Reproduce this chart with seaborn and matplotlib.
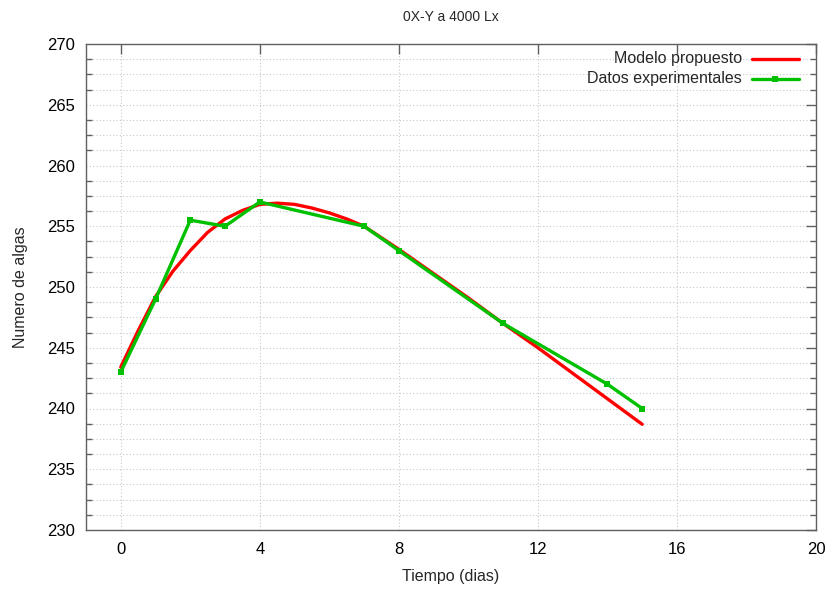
import matplotlib
matplotlib.use("Agg")
import matplotlib.pyplot as plt
from matplotlib.lines import Line2D
from matplotlib.ticker import MultipleLocator
import seaborn as sns
import pandas as pd

# Data
exp_t = [0, 1, 2, 3, 4, 7, 8, 11, 14, 15]
exp_y = [243.0, 249.0, 255.5, 255.0, 257.0, 255.0, 253.0, 247.0, 242.0, 240.0]
model_t = [0, 0.5, 1, 1.5, 2, 2.5, 3, 3.5, 4, 4.5, 5, 5.5, 6, 6.5, 7, 8, 9, 10, 11, 12, 13, 14, 15]
model_y = [243.4, 246.4, 249.2, 251.3, 253.0, 254.5, 255.6, 256.3, 256.8, 256.9, 256.8,
           256.5, 256.1, 255.6, 255.0, 253.1, 251.1, 249.1, 247.0, 245.0, 242.9, 240.8, 238.7]
labels = ["Modelo propuesto", "Datos experimentales"]
title = "0X-Y a 4000 Lx"

sns.set_style("white")
plt.rcParams['font.family'] = ['Liberation Sans', 'DejaVu Sans']

fig = plt.figure(figsize=(8.27, 5.89), dpi=100)
ax = fig.add_axes([86/827, 59/589, 730/827, 486/589])

red = "#ff0000"
green = "#00c000"

df_m = pd.DataFrame({"t": model_t, "y": model_y})
df_e = pd.DataFrame({"t": exp_t, "y": exp_y})
sns.lineplot(data=df_m, x="t", y="y", ax=ax, color=red, linewidth=2.4, zorder=3)
sns.lineplot(data=df_e, x="t", y="y", ax=ax, color=green, linewidth=2.4, marker="s",
             markersize=4.5, markeredgewidth=0, zorder=4)

ax.set_xlim(-1, 20)
ax.set_ylim(230, 270)
ax.xaxis.set_major_locator(MultipleLocator(4))
ax.yaxis.set_major_locator(MultipleLocator(5))
ax.yaxis.set_minor_locator(MultipleLocator(1.25))

ax.grid(True, which="major", axis="x", color="#c8c8c8", linestyle=(0, (1, 2)), linewidth=0.8)
ax.grid(True, which="both", axis="y", color="#c8c8c8", linestyle=(0, (1, 2)), linewidth=0.8)
ax.set_axisbelow(True)

for s in ax.spines.values():
    s.set_color("#606060")
    s.set_linewidth(1.0)

ax.tick_params(which="major", direction="in", length=7, width=1, color="#606060",
               top=True, right=True, labelsize=12, pad=9, labelcolor="black")
ax.tick_params(which="minor", direction="in", length=4, width=1, color="#606060",
               left=True, right=True)
ax.tick_params(axis="y", which="major", pad=8)

ax.set_xlabel("Tiempo (dias)", fontsize=11.5, labelpad=8)
ax.set_ylabel("Numero de algas", fontsize=11.5, labelpad=14)
fig.text(451/827, 1 - 17/589, title, ha="center", va="center", fontsize=10)

# legend (gnuplot style: right-aligned text, sample on the right)
y1 = 1 - (59-44)/486
y2 = 1 - (79-44)/486
xt = (742-86)/730
ax.text(xt, y1, labels[0], transform=ax.transAxes, ha="right", va="center", fontsize=11.5)
ax.text(xt, y2, labels[1], transform=ax.transAxes, ha="right", va="center", fontsize=11.5)
x0, x1 = (752-86)/730, (799-86)/730
ax.add_line(Line2D([x0, x1], [y1]*2, transform=ax.transAxes, color=red, linewidth=2.4))
ax.add_line(Line2D([x0, x1], [y2]*2, transform=ax.transAxes, color=green, linewidth=2.4))
ax.add_line(Line2D([(x0+x1)/2], [y2], transform=ax.transAxes, color=green,
                   marker="s", markersize=4.5, markeredgewidth=0))

fig.savefig("out.png", dpi=100)
